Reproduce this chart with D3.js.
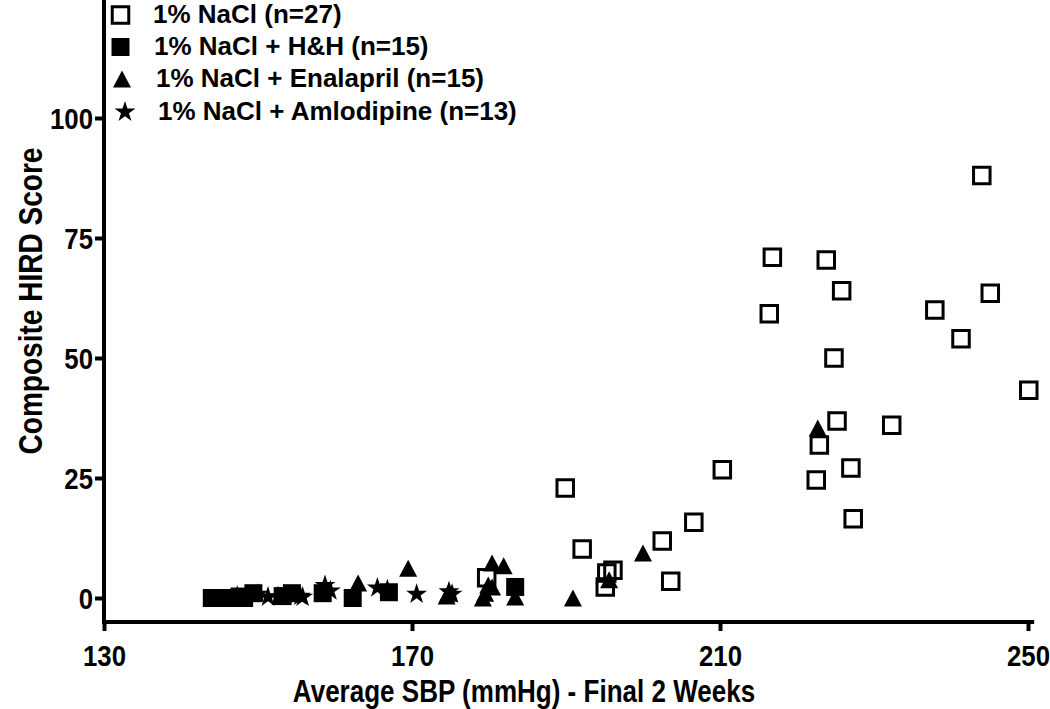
<!DOCTYPE html>
<html>
<head>
<meta charset="utf-8">
<script src="https://cdn.jsdelivr.net/npm/d3@7"></script>
<style>
  html, body { margin: 0; padding: 0; background: #fff; }
  svg { display: block; font-family: "Liberation Sans", Arial, sans-serif; }
</style>
</head>
<body>
<svg id="chart" width="1050" height="709"></svg>
<script>
// ---- Data (Average SBP mmHg, Composite HIRD score) ----
const naclX = [244.0, 216.8, 223.8, 225.8, 245.1, 216.4, 237.9, 241.3, 224.8, 250.1, 225.2, 232.3, 222.9, 222.5, 227.0, 227.3, 189.9, 192.1, 202.5, 206.6, 203.6, 195.3, 196.1, 195.1, 210.3, 179.7];
const naclY = [88, 71, 70.4, 64, 63.5, 59.2, 60, 54, 50, 43.3, 36.9, 36, 31.9, 24.6, 27.1, 16.5, 22.9, 10.2, 11.9, 15.8, 3.5, 5.2, 5.8, 2.3, 26.7, 4.2];

const hhX = [144.0, 144.5, 145.1, 146.1, 146.6, 147.1, 147.6, 148.2, 149.4, 153.2, 154.4, 158.4, 162.3, 167.0, 183.4];
const hhY = [0, 0, 0, 0, 0, 0, 0.3, 0, 1.0, 0.4, 1.0, 1.0, 0, 1.2, 2.3];

const enaX = [163.0, 169.5, 174.7, 174.5, 180.4, 181.9, 179.9, 179.2, 180.4, 179.5, 183.4, 190.9, 195.6, 200.0, 222.7];
const enaY = [3.1, 6.2, 1.0, 0.4, 7.3, 6.7, 2.7, 0, 2.3, 1.0, 0.2, 0, 3.8, 9.4, 35.4];

const amlX = [147.3, 150.0, 151.3, 152.6, 155.5, 155.8, 158.7, 159.4, 165.5, 166.8, 170.6, 174.8, 175.2];
const amlY = [0.4, 0.8, 0.2, 0.3, 0.4, 0.2, 2.6, 1.5, 2.1, 1.7, 0.8, 1.3, 0.8];

const seriesNames = ["1% NaCl (n=27)", "1% NaCl + H&H (n=15)", "1% NaCl + Enalapril (n=15)", "1% NaCl + Amlodipine (n=13)"];
const xTicks = [130, 170, 210, 250];
const yTicks = [0, 25, 50, 75, 100];
const xTitle = "Average SBP (mmHg) - Final 2 Weeks";
const yTitle = "Composite HIRD Score";

// ---- Layout ----
const svg = d3.select("#chart");
const x = d3.scaleLinear().domain([130, 250]).range([104, 1028]);
const y = d3.scaleLinear().domain([0, 100]).range([598, 118]);
const xMin = 130, xMax = 250.8, yMin = -5, yMax = 126;
const FONT = "Liberation Sans, Arial, sans-serif";
const COND = 0.86; // horizontal condensing of axis texts

// symbol generators
const squarePath = d3.symbol(d3.symbolSquare).size(16.5 * 16.5)();
const filledSquarePath = d3.symbol(d3.symbolSquare).size(18 * 18)();
function triPath(w, h) {
  return `M0,${-h / 2}L${w / 2},${h / 2}L${-w / 2},${h / 2}Z`;
}
const trianglePath = triPath(18, 17);
const starPath = d3.symbol(d3.symbolStar).size(136)();

const styles = [
  { path: squarePath, fill: "none", stroke: "#000", sw: 3 },
  { path: filledSquarePath, fill: "#000", stroke: "none", sw: 0 },
  { path: trianglePath, fill: "#000", stroke: "none", sw: 0 },
  { path: starPath, fill: "#000", stroke: "none", sw: 0 }
];
const seriesData = [
  naclX.map((v, i) => [v, naclY[i]]),
  hhX.map((v, i) => [v, hhY[i]]),
  enaX.map((v, i) => [v, enaY[i]]),
  amlX.map((v, i) => [v, amlY[i]])
];

// ---- Axes ----
const axisColor = "#000";
// x axis
const xAxis = svg.append("g")
  .attr("transform", `translate(0,${y(yMin)})`)
  .call(d3.axisBottom(x).tickValues(xTicks).tickSize(9).tickSizeOuter(0).tickPadding(14));
xAxis.select(".domain").remove();
xAxis.selectAll(".tick line").attr("stroke", axisColor).attr("stroke-width", 4);
xAxis.selectAll(".tick text").attr("font-size", 30).attr("font-weight", "bold")
  .attr("font-family", FONT).attr("fill", "#000")
  .attr("transform", `scale(${COND},1)`);
svg.append("line")
  .attr("x1", x(xMin) - 2).attr("x2", x(xMax))
  .attr("y1", y(yMin)).attr("y2", y(yMin))
  .attr("stroke", axisColor).attr("stroke-width", 4);

// y axis
const yAxis = svg.append("g")
  .attr("transform", `translate(${x(xMin)},0)`)
  .call(d3.axisLeft(y).tickValues(yTicks).tickSize(9).tickSizeOuter(0));
yAxis.select(".domain").remove();
yAxis.selectAll(".tick line").attr("stroke", axisColor).attr("stroke-width", 4);
yAxis.selectAll(".tick text").attr("font-size", 30).attr("font-weight", "bold")
  .attr("font-family", FONT).attr("fill", "#000")
  .attr("x", -11 / COND).attr("dy", "0.36em")
  .attr("transform", `scale(${COND},1)`);
svg.append("line")
  .attr("x1", x(xMin)).attr("x2", x(xMin))
  .attr("y1", y(yMin) + 2).attr("y2", y(yMax))
  .attr("stroke", axisColor).attr("stroke-width", 4);

// titles
svg.append("text")
  .attr("transform", `translate(524,702) scale(0.84,1)`)
  .attr("text-anchor", "middle").attr("font-size", 31).attr("font-weight", "bold")
  .text(xTitle);
svg.append("text")
  .attr("transform", `translate(42,301) rotate(-90) scale(0.85,1)`)
  .attr("text-anchor", "middle").attr("font-size", 33).attr("font-weight", "bold")
  .text(yTitle);

// ---- Points ----
seriesData.forEach((pts, si) => {
  const st = styles[si];
  svg.append("g").selectAll("path").data(pts).join("path")
    .attr("d", st.path)
    .attr("transform", d => `translate(${x(d[0])},${y(d[1])})`)
    .attr("fill", st.fill).attr("stroke", st.stroke).attr("stroke-width", st.sw);
});

// ---- Legend ----
const legendRows = [23, 55, 87, 120];
const symX = [120.5, 120.5, 122, 125];
const textX = [153, 154, 156, 158];
const legend = svg.append("g");
seriesNames.forEach((name, i) => {
  const st = styles[i];
  legend.append("path").attr("d", st.path)
    .attr("transform", `translate(${symX[i]},${legendRows[i] - 8})`)
    .attr("fill", st.fill).attr("stroke", st.stroke).attr("stroke-width", st.sw);
  legend.append("text").attr("x", textX[i]).attr("y", legendRows[i])
    .attr("font-size", 26).attr("font-weight", "bold").text(name);
});
</script>
</body>
</html>
